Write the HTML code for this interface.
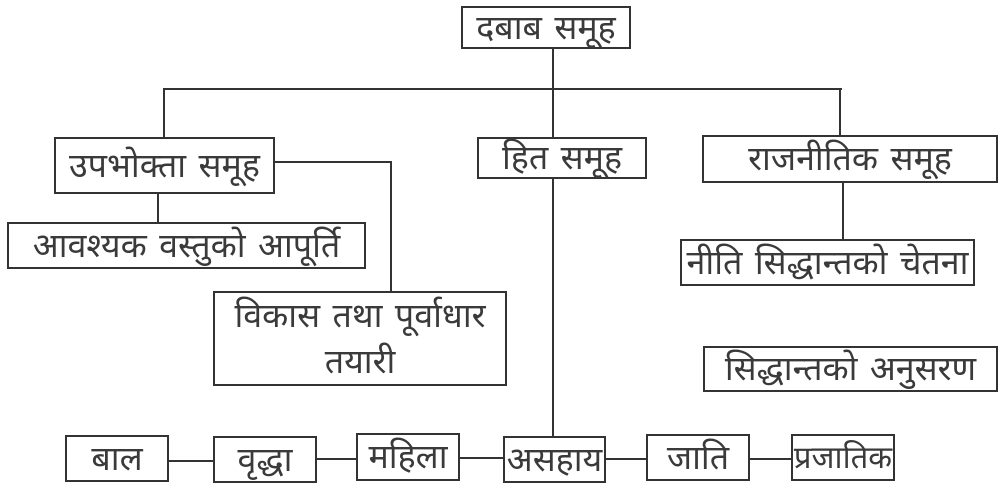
<!DOCTYPE html>
<html>
<head>
<meta charset="utf-8">
<style>
  html,body{margin:0;padding:0;background:#fff;}
  body{width:1005px;height:490px;position:relative;overflow:hidden;
    font-family:"Liberation Sans","Noto Sans Devanagari","Lohit Devanagari","FreeSans",sans-serif;color:#3a3a3a;}
  .b{position:absolute;box-sizing:border-box;border:2px solid #333;background:#fff;
     display:flex;align-items:center;justify-content:center;text-align:center;
     font-size:34px;line-height:46px;white-space:nowrap;word-spacing:3px;}
  .h{position:absolute;height:2px;background:#333;}
  .v{position:absolute;width:2px;background:#333;}
</style>
</head>
<body>
<!-- connectors -->
<div class="v" style="left:552px;top:48px;height:42px;"></div>
<div class="h" style="left:163px;top:88px;width:679px;"></div>
<div class="v" style="left:163px;top:88px;height:50px;"></div>
<div class="v" style="left:552px;top:88px;height:50px;"></div>
<div class="v" style="left:839px;top:88px;height:48px;"></div>
<div class="h" style="left:274px;top:161px;width:118px;"></div>
<div class="v" style="left:390px;top:161px;height:131px;"></div>
<div class="v" style="left:157px;top:193px;height:30px;"></div>
<div class="v" style="left:552px;top:178px;height:258px;"></div>
<div class="v" style="left:842px;top:182px;height:58px;"></div>
<div class="h" style="left:168px;top:460px;width:46px;"></div>
<div class="h" style="left:316px;top:458px;width:41px;"></div>
<div class="h" style="left:459px;top:457px;width:45px;"></div>
<div class="h" style="left:605px;top:458px;width:42px;"></div>
<div class="h" style="left:749px;top:458px;width:43px;"></div>

<!-- boxes -->
<div class="b" style="left:461px;top:6px;width:170px;height:43px;">दबाब समूह</div>
<div class="b" style="left:54px;top:137px;width:221px;height:57px;">उपभोक्ता समूह</div>
<div class="b" style="left:477px;top:137px;width:170px;height:42px;">हित समूह</div>
<div class="b" style="left:702px;top:135px;width:296px;height:48px;">राजनीतिक समूह</div>
<div class="b" style="left:7px;top:222px;width:359px;height:47px;">आवश्यक वस्तुको आपूर्ति</div>
<div class="b" style="left:680px;top:239px;width:295px;height:47px;">नीति सिद्धान्तको चेतना</div>
<div class="b" style="left:213px;top:291px;width:294px;height:95px;white-space:normal;">विकास तथा पूर्वाधार<br>तयारी</div>
<div class="b" style="left:703px;top:346px;width:295px;height:46px;">सिद्धान्तको अनुसरण</div>

<div class="b" style="left:65px;top:435px;width:104px;height:47px;">बाल</div>
<div class="b" style="left:213px;top:436px;width:104px;height:47px;">वृद्धा</div>
<div class="b" style="left:356px;top:433px;width:104px;height:48px;">महिला</div>
<div class="b" style="left:503px;top:436px;width:103px;height:47px;">असहाय</div>
<div class="b" style="left:646px;top:434px;width:104px;height:47px;">जाति</div>
<div class="b" style="left:791px;top:434px;width:104px;height:47px;font-size:31px;">प्रजातिक</div>
</body>
</html>
